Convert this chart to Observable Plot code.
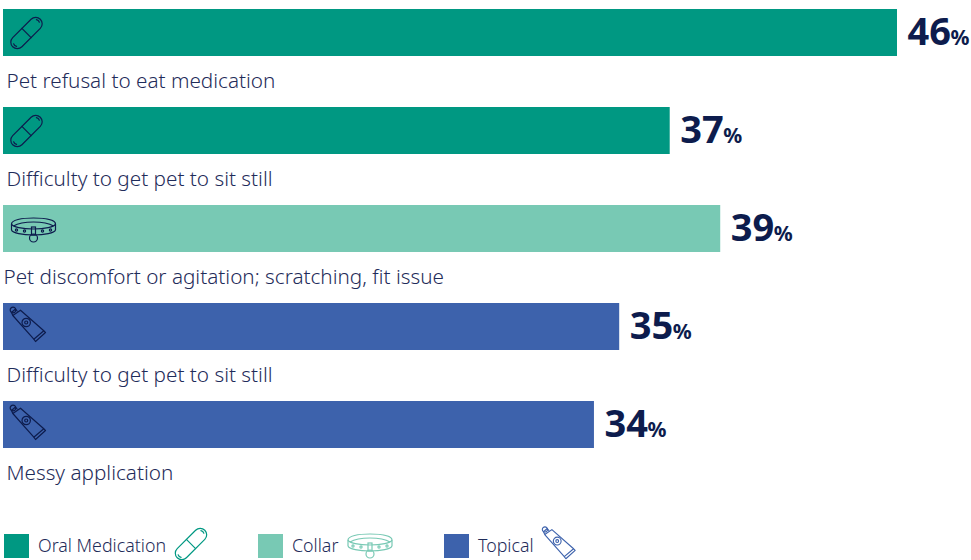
<!DOCTYPE html>
<html>
<head>
<meta charset="utf-8">
<script src="https://cdn.jsdelivr.net/npm/d3@7"></script>
<script src="https://cdn.jsdelivr.net/npm/@observablehq/plot@0.6"></script>
<style>
  html, body { margin: 0; background: #fff; }
  #chart { width: 971px; height: 560px; position: relative; overflow: hidden; font-family: "Noto Sans", sans-serif; }
  #chart svg.plot { display: block; }
  .legend { position: absolute; left: 0; top: 526px; width: 971px; height: 34px; color: #1f2c5a; font-size: 17.8px; font-weight: 300; }
  .key { position: absolute; top: 0; height: 34px; }
  .swatch { position: absolute; top: 8px; left: 0; width: 25px; height: 24px; }
  .name { position: absolute; left: 34px; top: 6px; white-space: nowrap; line-height: 26px; }
  .key svg { position: absolute; }
</style>
</head>
<body>
<div id="chart"></div>
<script>
// Reported challenges by treatment type
const rows = [0, 1, 2, 3, 4];
const challenges = [
  "Pet refusal to eat medication",
  "Difficulty to get pet to sit still",
  "Pet discomfort or agitation; scratching, fit issue",
  "Difficulty to get pet to sit still",
  "Messy application"
];
const treatments = ["Oral Medication", "Oral Medication", "Collar", "Topical", "Topical"];
const shares = [46, 37, 39, 35, 34];

const kinds = ["Oral Medication", "Collar", "Topical"];
const kindColors = ["#009882", "#78c9b4", "#3d62ac"];
const navy = "#0d1c4d";
const textColor = "#1f2c5a";

// Line icons, each drawn inside a 60x50 frame
const pill = c => `<g transform="translate(23,25) rotate(-45)" fill="none" stroke="${c}" stroke-width="1.2" stroke-linecap="round">
  <rect x="-19.5" y="-6.5" width="39" height="13" rx="6.5"/><path d="M0-6.5V6.5"/>
  <path d="M-16.5 2.5a4 4 0 0 1-.2-4M16.5-2.5a4 4 0 0 1 .2 4"/></g>`;
const collar = c => `<g transform="translate(7,13)" fill="none" stroke="${c}" stroke-width="1.2">
  <path d="M1 7C1 3 11 1 23 1S45 3 45 7"/>
  <path d="M3 9C8 6 15 5 23 5S38 6 43 9"/>
  <path d="M1 7C2 10 12 12 23 12S44 10 45 7"/>
  <path d="M1 7V13M45 7V13"/>
  <path d="M1 13C2 16 12 18 23 18S44 16 45 13"/>
  <rect x="21" y="10" width="4" height="8"/><circle cx="23" cy="21" r="4"/>
  <circle cx="6" cy="13" r="1.1"/><circle cx="14" cy="14" r="1.1"/><circle cx="32" cy="14" r="1.1"/><circle cx="40" cy="13" r="1.1"/></g>`;
const tube = c => `<g transform="translate(6,4.5)" fill="none" stroke="${c}" stroke-width="1.2" stroke-linejoin="round">
  <path d="M3.3 9L11 3.7L34.3 24.3L24.3 32.7Z"/><path d="M24.3 32.7L26 35L36 26L34.3 24.3"/>
  <path d="M3.3 9L2 6L6 2.5L8 5"/><circle cx="3.5" cy="3.5" r="2.8"/>
  <circle cx="16.7" cy="16" r="4.2"/><circle cx="16.7" cy="16" r="1.5"/></g>`;
const icons = {"Oral Medication": pill, "Collar": collar, "Topical": tube};

const iconUri = (kind, color) => "data:image/svg+xml," + encodeURIComponent(
  `<svg xmlns="http://www.w3.org/2000/svg" viewBox="0 0 60 50" width="60" height="50">${icons[kind](color)}</svg>`);

const xStart = 10.6;
const font = "Noto Sans";

// The collar caption sits slightly further left than the others
const captionMark = (subset, dx) => Plot.text(subset, {
  x: () => xStart, y: i => i, dx, dy: 48.5, text: i => challenges[i],
  textAnchor: "start", fill: textColor, fontSize: 20.7, fontWeight: 300, fontFamily: font
});

const plot = Plot.plot({
  width: 971,
  height: 520,
  margin: 0,
  x: {domain: [xStart, 46], range: [3, 897], axis: null},
  y: {domain: rows, range: [9, 450], paddingInner: 0.52, paddingOuter: 0, align: 0, axis: null},
  color: {domain: kinds, range: kindColors},
  style: {background: "transparent"},
  marks: [
    Plot.barX(rows, {x1: () => xStart, x2: i => shares[i], y: i => i, fill: i => treatments[i]}),
    Plot.image(rows, {
      x: () => xStart, y: i => i, dx: 30, width: 60, height: 50,
      src: i => iconUri(treatments[i], navy)
    }),
    captionMark(rows.filter(i => treatments[i] !== "Collar"), 3),
    captionMark(rows.filter(i => treatments[i] === "Collar"), 0),
    Plot.text(rows, {
      x: i => shares[i], y: i => i, dx: 10, text: i => String(shares[i]),
      textAnchor: "start", fill: navy, fontSize: 38, fontWeight: 700, fontFamily: font
    }),
    Plot.text(rows, {
      x: i => shares[i], y: i => i, dx: 53, dy: 5, text: () => "%",
      textAnchor: "start", fill: navy, fontSize: 21, fontWeight: 700, fontFamily: font
    })
  ]
});

const root = document.getElementById("chart");
root.appendChild(plot);

// Legend row below the plot
const legend = document.createElement("div");
legend.className = "legend";
const keyLeft = [4, 258, 444];
const keyIcon = [
  {left: 164, top: -7.5, w: 60, h: 50},
  {left: 82, top: -6, w: 60, h: 50},
  {left: 92, top: -4, w: 56, h: 46.5}
];
kinds.forEach((kind, i) => {
  const k = keyIcon[i];
  const key = document.createElement("div");
  key.className = "key";
  key.style.left = keyLeft[i] + "px";
  key.innerHTML =
    `<div class="swatch" style="background:${kindColors[i]}"></div>` +
    `<div class="name">${kind}</div>` +
    `<svg viewBox="0 0 60 50" style="left:${k.left}px;top:${k.top}px;width:${k.w}px;height:${k.h}px">${icons[kind](kindColors[i])}</svg>`;
  legend.appendChild(key);
});
root.appendChild(legend);
</script>
</body>
</html>
